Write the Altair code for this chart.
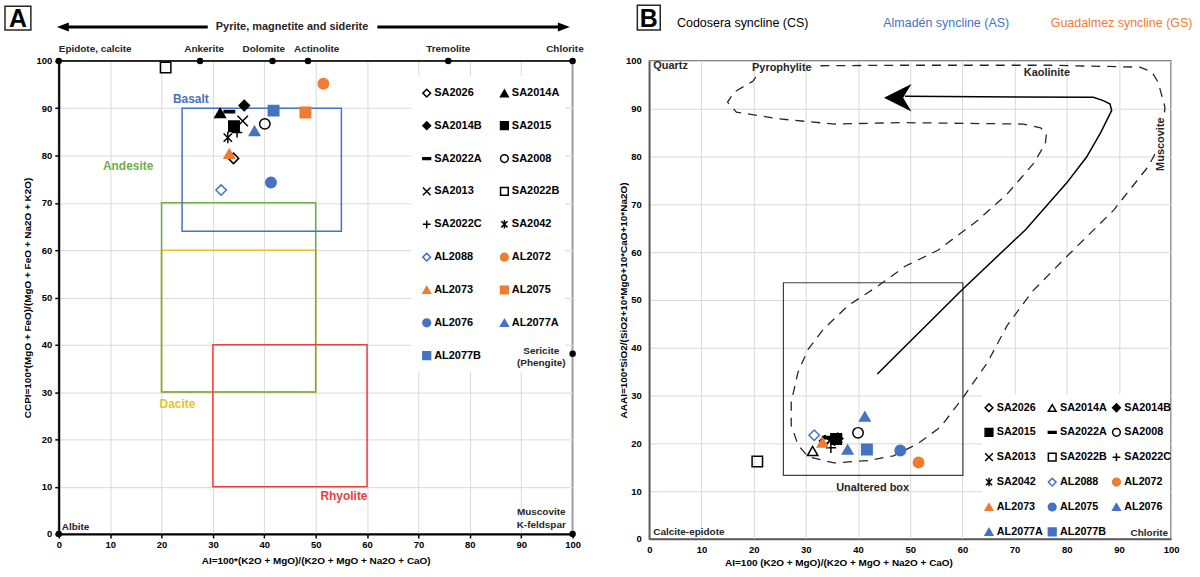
import altair as alt
import pandas as pd

FONT = "Liberation Sans"
INK = "#262626"
BLUE = "#4472C4"
ORANGE = "#ED7D31"
GREEN = "#70AD47"
GOLD = "#E3C430"
RED = "#E8403C"
GRID = "#D9D9D9"
NONE = "transparent"

# ---------------------------------------------------------------- samples
samples = ["SA2026", "SA2014A", "SA2014B", "SA2015", "SA2022A", "SA2008",
           "SA2013", "SA2022B", "SA2022C", "SA2042", "AL2088", "AL2072",
           "AL2073", "AL2075", "AL2076", "AL2077A", "AL2077B"]

# Panel A: AI vs CCPI
ai_a = [34.0, 31.4, 36.1, 34.1, 33.2, 40.1, 35.8, 20.8, 34.7, 32.9,
        31.6, 51.5, 33.2, 48.0, 41.3, 38.1, 41.8]
ccpi_a = [79.4, 89.0, 90.6, 86.2, 89.3, 86.7, 87.3, 98.6, 84.9, 83.8,
          72.7, 95.2, 80.4, 89.1, 74.3, 85.2, 89.5]

# Panel B: AI vs AAAI
ai_b = [33.6, 31.3, 36.1, 35.8, 34.2, 40.0, 34.6, 20.7, 34.8, 36.2,
        31.6, 51.6, 33.2, 48.1, 38.0, 41.3, 41.7]
aaai_b = [20.5, 18.4, 21.0, 20.9, 21.2, 22.2, 20.6, 16.2, 19.1, 21.0,
          21.7, 16.0, 20.2, 18.5, 18.7, 25.6, 18.7]

# symbol shapes (paths are drawn in a [-1, 1] box)
DIAMOND, TRIANGLE, SQUARE, CIRCLE = "diamond", "triangle-up", "square", "circle"
DASH = "M-1,-0.22H1V0.22H-1Z"
XMARK = "M-1,-1L1,1M-1,1L1,-1"
PLUS = "M-1,0H1M0,-1V1"
ASTERISK = "M-0.8,-0.8L0.8,0.8M-0.8,0.8L0.8,-0.8M0,-1.1V1.1"

shape_a = [DIAMOND, TRIANGLE, DIAMOND, SQUARE, DASH, CIRCLE, XMARK, SQUARE, PLUS,
           ASTERISK, DIAMOND, CIRCLE, TRIANGLE, SQUARE, CIRCLE, TRIANGLE, SQUARE]
fill_a = [NONE, "black", "black", "black", "black", NONE, NONE, NONE, NONE, NONE,
          NONE, ORANGE, ORANGE, ORANGE, BLUE, BLUE, BLUE]
stroke_a = ["black"] * 10 + [BLUE, ORANGE, ORANGE, ORANGE, BLUE, BLUE, BLUE]

shape_b = [DIAMOND, TRIANGLE, DIAMOND, SQUARE, DASH, CIRCLE, XMARK, SQUARE, PLUS,
           ASTERISK, DIAMOND, CIRCLE, TRIANGLE, CIRCLE, TRIANGLE, TRIANGLE, SQUARE]
fill_b = [NONE, NONE, "black", "black", "black", NONE, NONE, NONE, NONE, NONE,
          NONE, ORANGE, ORANGE, BLUE, BLUE, BLUE, BLUE]
stroke_b = ["black"] * 10 + [BLUE, ORANGE, ORANGE, BLUE, BLUE, BLUE, BLUE]

# ---------------------------------------------------------------- panel A reference fields
region_names = ["Dacite", "Andesite", "Basalt", "Rhyolite"]
region_colors = [GOLD, GREEN, BLUE, RED]
region_ai = [(20, 50), (20, 50), (24, 55), (30, 60)]
region_ccpi = [(30, 60), (30, 70), (64, 90), (10, 40)]
region_label_ai = [23.1, 13.5, 25.7, 55.5]
region_label_ccpi = [27.5, 77.8, 92.0, 8.0]

mineral_names = ["Epidote, calcite", "Ankerite", "Dolomite", "Actinolite", "Tremolite", "Chlorite"]
mineral_ai = [0, 27.5, 41.6, 48.5, 75.8, 100]
mineral_label_ai = [0, 28.3, 39.9, 50.2, 75.8, 98.5]
endmember_ai = [100, 100, 0]
endmember_ccpi = [38.1, 0, 0]

# ---------------------------------------------------------------- panel B reference fields
box_ai = (25.7, 60.1)
box_aaai = (13.3, 53.6)
env_seg = [1] * 8 + [2] * 39
env_ai = [32.8, 48.2, 76.8, 94.0, 96.3, 97.5, 98.8, 98.7,
          96.9, 95.6, 89.0, 80.1, 73.5, 68.6, 64.8, 60.2, 55.8, 51.4, 46.8, 41.9,
          35.4, 30.4, 28.5, 27.2, 27.2, 28.5, 30.4, 33.3, 38.1, 43.8, 49.1, 55.3,
          62.9, 68.6, 73.6, 75.9, 76.1, 75.0, 71.7, 48.2, 35.4, 24.7, 16.7, 15.0,
          16.3, 19.9, 20.6]
env_aaai = [99.0, 99.1, 99.1, 98.7, 97.7, 95.6, 90.4, 88.3,
            80.5, 77.9, 68.8, 59.2, 51.9, 44.7, 36.9, 29.7, 23.4, 19.9, 17.4, 16.4,
            15.9, 17.2, 19.7, 23.8, 28.6, 34.9, 39.6, 43.8, 48.8, 52.9, 57.1, 60.4,
            66.6, 72.2, 78.5, 82.7, 84.8, 86.0, 86.8, 87.1, 86.8, 87.9, 89.3, 91.4,
            93.5, 95.8, 97.0]
trend_ai = [43.7, 60.0, 72.1, 80.0, 83.8, 86.5, 88.6, 88.3, 87.0, 85.1, 49.0]
trend_aaai = [34.5, 52.2, 64.7, 74.5, 79.9, 85.0, 89.6, 91.0, 91.7, 92.4, 92.6]

syncline_names = ["Codosera syncline (CS)", "Almadén syncline (AS)", "Guadalmez syncline (GS)"]
syncline_colors = ["black", BLUE, ORANGE]
syncline_ai = [17.9, 56.9, 90.5]

ticks = list(range(0, 101, 10))
one = pd.DataFrame({"k": [0]})


def ghost(x1, x2, y1, y2):
    """Invisible box that fixes the extent of a panel."""
    return alt.Chart(one).mark_rect(opacity=0).encode(
        x=alt.value(x1), x2=alt.value(x2), y=alt.value(y1), y2=alt.value(y2))


def panel_tag(letter, x1, x2, y1, y2):
    box = alt.Chart(one).mark_rect(fillOpacity=0, stroke=INK, strokeWidth=1.5).encode(
        x=alt.value(x1), x2=alt.value(x2), y=alt.value(y1), y2=alt.value(y2))
    txt = alt.Chart(one).mark_text(text=letter, font=FONT, fontSize=25, fontWeight="bold",
                                   color="black").encode(
        x=alt.value((x1 + x2) / 2), y=alt.value((y1 + y2) / 2 + 1))
    return [box, txt]


def labels(xe, ye, xs, ys, texts, **kw):
    df = pd.DataFrame({"x": xs, "y": ys, "t": texts})
    return alt.Chart(df).mark_text(font=FONT, **kw).encode(x=xe, y=ye, text="t:N")


def sample_legend(lx, ly, cols, row_pad, col_pad, pad, offset, font_size):
    return alt.Legend(title=None, orient="none", legendX=lx, legendY=ly, columns=cols,
                      direction="horizontal", rowPadding=row_pad, columnPadding=col_pad,
                      padding=pad, labelOffset=offset, symbolSize=60, symbolStrokeWidth=1.5,
                      labelFont=FONT, labelFontSize=font_size, labelFontWeight="bold",
                      labelColor="black", gridAlign="each")


def sample_points(xe, ye, xs, ys, shapes, fills, strokes, legend):
    df = pd.DataFrame({"sample": samples, "x": xs, "y": ys})
    return alt.Chart(df).mark_point(filled=True, opacity=1, size=110, strokeWidth=1.5).encode(
        x=xe, y=ye,
        shape=alt.Shape("sample:N", scale=alt.Scale(domain=samples, range=shapes), legend=legend),
        fill=alt.Fill("sample:N", scale=alt.Scale(domain=samples, range=fills), legend=legend),
        stroke=alt.Stroke("sample:N", scale=alt.Scale(domain=samples, range=strokes), legend=legend),
    )


# ================================================================ panel A
WA, HA = 516, 475
xa = alt.X("x:Q", scale=alt.Scale(domain=[0, 100], nice=False, zero=False),
           axis=alt.Axis(values=ticks, title="AI=100*(K2O + MgO)/(K2O + MgO + Na2O + CaO)",
                         domainColor="black", domainWidth=2, tickColor="black", tickSize=4,
                         tickWidth=1.5, labelPadding=2, labelFlush=False, labelOverlap=False,
                         titleX=WA / 2, titleY=22, titleBaseline="top", titleAlign="center"))
ya = alt.Y("y:Q", scale=alt.Scale(domain=[0, 100], nice=False, zero=False),
           axis=alt.Axis(values=ticks, title="CCPI=100*(MgO + FeO)/(MgO + FeO + Na2O + K2O)",
                         domainColor="black", domainWidth=2, tickColor="black", tickSize=4,
                         tickWidth=1.5, labelPadding=3, labelFlush=False, labelOverlap=False,
                         titleX=-26, titleY=HA / 2, titleAngle=270, titleBaseline="bottom",
                         titleAlign="center"))

layers_a = [ghost(-54, 543, -56, 517)] + panel_tag("A", -54, -28, -55, -31)

for (x0, x1), (y0, y1), col in zip(region_ai, region_ccpi, region_colors):
    df = pd.DataFrame({"x": [x0], "x2": [x1], "y": [y0], "y2": [y1]})
    layers_a.append(alt.Chart(df).mark_rect(fillOpacity=0, stroke=col, strokeWidth=1.5)
                    .encode(x=xa, x2="x2:Q", y=ya, y2="y2:Q"))

# white patch under the sample key
layers_a.append(alt.Chart(pd.DataFrame({"x": [68.6], "x2": [98.6], "y": [34.3], "y2": [96.8]}))
                .mark_rect(color="white").encode(x=xa, x2="x2:Q", y=ya, y2="y2:Q"))

for name, col, lx, ly in zip(region_names, region_colors, region_label_ai, region_label_ccpi):
    layers_a.append(labels(xa, ya, [lx], [ly], [name], color=col, fontSize=12,
                           fontWeight="bold"))

# mineral line along the top edge
layers_a.append(alt.Chart(pd.DataFrame({"x": [0], "x2": [100], "y": [100]}))
                .mark_rule(color="black", strokeWidth=1.5).encode(x=xa, x2="x2:Q", y=ya))
layers_a.append(labels(xa, ya, mineral_label_ai[:1], [100], mineral_names[:1], align="left",
                       dy=-12, fontSize=10, fontWeight="bold", color=INK))
layers_a.append(labels(xa, ya, mineral_label_ai[1:], [100] * 5, mineral_names[1:],
                       align="center", dy=-12, fontSize=10, fontWeight="bold", color=INK))
dots = pd.DataFrame({"x": mineral_ai + endmember_ai, "y": [100] * 6 + endmember_ccpi})
layers_a.append(alt.Chart(dots).mark_point(shape="circle", filled=True, opacity=1, size=42,
                                           color="black").encode(x=xa, y=ya))

# Pyrite, magnetite and siderite double arrow
arrow_y = 107.2
layers_a.append(alt.Chart(pd.DataFrame({"x": [0.8, 62.0], "x2": [29.0, 98.3],
                                        "y": [arrow_y, arrow_y]}))
                .mark_rule(color="black", strokeWidth=3).encode(x=xa, x2="x2:Q", y=ya))
layers_a.append(alt.Chart(pd.DataFrame({"x": [0.8], "y": [arrow_y]}))
                .mark_point(shape="M-1,0L1,-0.75L1,0.75Z", filled=True, opacity=1, size=144,
                            color="black").encode(x=xa, y=ya))
layers_a.append(alt.Chart(pd.DataFrame({"x": [98.3], "y": [arrow_y]}))
                .mark_point(shape="M1,0L-1,-0.75L-1,0.75Z", filled=True, opacity=1, size=144,
                            color="black").encode(x=xa, y=ya))
layers_a.append(labels(xa, ya, [45.4], [arrow_y], ["Pyrite, magnetite and siderite"],
                       fontSize=11, fontWeight="bold", color=INK))

# end-member names
layers_a.append(labels(xa, ya, [0], [0], ["Albite"], align="left", dx=3, dy=-7,
                       fontSize=10, fontWeight="bold", color=INK))
layers_a.append(labels(xa, ya, [93.9, 93.9, 93.9, 93.9], [4.6, 2.0, 38.7, 36.2],
                       ["Muscovite", "K-feldspar", "Sericite", "(Phengite)"],
                       fontSize=10, fontWeight="bold", color=INK))

layers_a.append(sample_points(xa, ya, ai_a, ccpi_a, shape_a, fill_a, stroke_a,
                              sample_legend(354, 16.5, 2, 18, 15, 10, 2, 11)))

panel_a = alt.layer(*layers_a).properties(
    width=WA, height=HA, view=alt.ViewBackground(stroke="#7F7F7F", strokeWidth=2))

# ================================================================ panel B
WB, HB = 524, 480
xb = alt.X("x:Q", scale=alt.Scale(domain=[0, 100], nice=False, zero=False),
           axis=alt.Axis(values=ticks, title="AI=100 (K2O + MgO)/(K2O + MgO + Na2O + CaO)",
                         domainColor="#595959", domainWidth=1.5, ticks=False, tickSize=0,
                         labelPadding=6, labelFlush=False, labelOverlap=False,
                         titleX=190, titleY=19, titleBaseline="top", titleAlign="center"))
yb = alt.Y("y:Q", scale=alt.Scale(domain=[0, 100], nice=False, zero=False),
           axis=alt.Axis(values=ticks, title="AAAI=100*SiO2/(SiO2+10*MgO+10*CaO+10*Na2O)",
                         domainColor="#595959", domainWidth=1.5, ticks=False, tickSize=0,
                         labelPadding=8, labelFlush=False, labelOverlap=False,
                         titleX=-21, titleY=HB / 2, titleAngle=270, titleBaseline="bottom",
                         titleAlign="center"))

layers_b = [ghost(-48, 549, -56, 517)] + panel_tag("B", -12, 11, -56, -31)

layers_b.append(alt.Chart(pd.DataFrame({"x": [box_ai[0]], "x2": [box_ai[1]],
                                        "y": [box_aaai[0]], "y2": [box_aaai[1]]}))
                .mark_rect(fillOpacity=0, stroke="#404040", strokeWidth=1.2)
                .encode(x=xb, x2="x2:Q", y=yb, y2="y2:Q"))

env = pd.DataFrame({"x": env_ai, "y": env_aaai, "seg": env_seg, "i": range(len(env_ai))})
layers_b.append(alt.Chart(env).mark_line(color=INK, strokeWidth=1.3, strokeDash=[9, 7])
                .encode(x=xb, y=yb, detail="seg:N", order="i:Q"))

trend = pd.DataFrame({"x": trend_ai, "y": trend_aaai, "i": range(len(trend_ai))})
layers_b.append(alt.Chart(trend).mark_line(color="black", strokeWidth=1.5)
                .encode(x=xb, y=yb, order="i:Q"))
layers_b.append(alt.Chart(pd.DataFrame({"x": [47.6], "y": [92.3]}))
                .mark_point(shape="M-1,0L1,-1L0.4,0L1,1Z", filled=True, opacity=1, size=760,
                            color="black").encode(x=xb, y=yb))

# white patch under the sample key
layers_b.append(alt.Chart(pd.DataFrame({"x": [63.7], "x2": [99.6], "y": [0.4], "y2": [30.2]}))
                .mark_rect(color="white").encode(x=xb, x2="x2:Q", y=yb, y2="y2:Q"))

# syncline headers
for hx, ht, hc in zip(syncline_ai, syncline_names, syncline_colors):
    layers_b.append(labels(xb, yb, [hx], [107.9], [ht], fontSize=12.5, color=hc))

# mineral names
layers_b.append(labels(xb, yb, [0], [98.9], ["Quartz"], align="left", dx=4, fontSize=11,
                       fontWeight="bold", color=INK))
layers_b.append(labels(xb, yb, [25.4, 76.2, 42.8], [98.5, 97.4, 10.7],
                       ["Pyrophylite", "Kaolinite", "Unaltered box"], fontSize=11,
                       fontWeight="bold", color=INK))
layers_b.append(labels(xb, yb, [98.0], [82.6], ["Muscovite"], angle=270, fontSize=11,
                       fontWeight="bold", color=INK))
layers_b.append(labels(xb, yb, [0], [1.5], ["Calcite-epidote"], align="left", dx=4,
                       fontSize=10, fontWeight="bold", color=INK))
layers_b.append(labels(xb, yb, [100], [1.3], ["Chlorite"], align="right", dx=-3,
                       fontSize=10, fontWeight="bold", color=INK))

layers_b.append(sample_points(xb, yb, ai_b, aaai_b, shape_b, fill_b, stroke_b,
                              sample_legend(330.7, 337.5, 3, 10, 1.5, 5, 2.5, 10.8)))

panel_b = alt.layer(*layers_b).properties(
    width=WB, height=HB, view=alt.ViewBackground(stroke="#595959", strokeWidth=1.5))

# ================================================================ figure
chart = (
    alt.hconcat(panel_a, panel_b, spacing=0)
    .resolve_scale(x="independent", y="independent", shape="independent",
                   fill="independent", stroke="independent")
    .resolve_legend(shape="independent", fill="independent", stroke="independent")
    .properties(padding={"left": 3, "top": 2, "right": 3, "bottom": 2}, background="white")
    .configure(font=FONT)
    .configure_axis(labelFont=FONT, titleFont=FONT, labelFontWeight="bold",
                    titleFontWeight="bold", labelColor="black", titleColor="black",
                    labelFontSize=9.5, titleFontSize=10, gridColor=GRID, gridWidth=1)
)

chart.save("out.html", embed_options={"renderer": "svg", "actions": False})
